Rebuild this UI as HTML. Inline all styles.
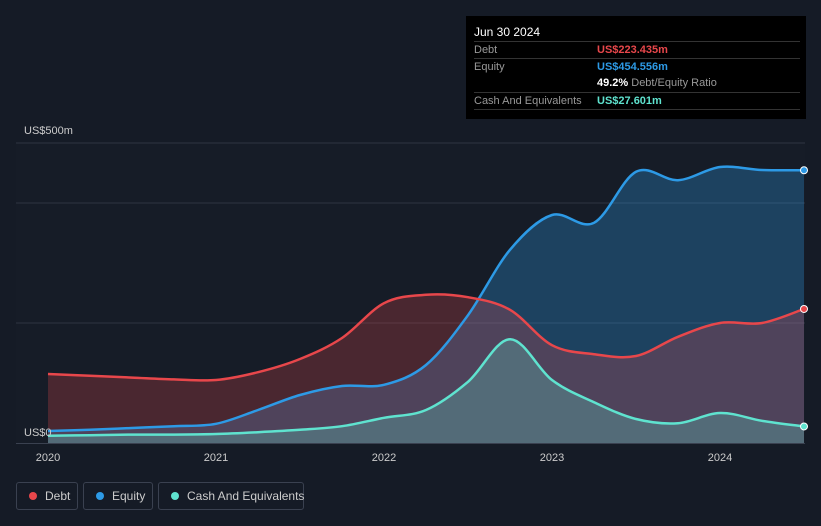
<!DOCTYPE html>
<html><head><meta charset="utf-8"><style>
body{margin:0;background:#151b26;font-family:"Liberation Sans",sans-serif;}
#wrap{position:relative;width:821px;height:526px;overflow:hidden;}
.tt{position:absolute;left:466px;top:16px;width:340px;height:103px;background:#000;color:#fff;font-size:11px;}
.row{position:absolute;left:8px;right:6px;border-top:1px solid #333;height:17px;line-height:17px;}
.row span{position:absolute;left:123px;font-weight:bold;}
.lab{color:#999;}
.leg{position:absolute;top:482px;height:28px;border:1px solid #3a4150;border-radius:3px;color:#ccc;font-size:12px;line-height:26px;box-sizing:border-box;padding-left:28px;white-space:nowrap;}
.leg i{position:absolute;left:12px;top:9px;width:8px;height:8px;border-radius:50%;}
</style></head><body><div id="wrap">
<svg id="svg" width="821" height="526" style="position:absolute;left:0;top:0"></svg>
<div class="tt">
<div style="position:absolute;left:8px;top:9px;font-size:12px">Jun 30 2024</div>
<div class="row" style="top:25px"><b class="lab" style="font-weight:normal">Debt</b><span style="color:#e8474b">US$223.435m</span></div>
<div class="row" style="top:42px"><b class="lab" style="font-weight:normal">Equity</b><span style="color:#2d9ae6">US$454.556m</span></div>
<div class="row" style="top:59px;border-top:none"><span style="color:#fff">49.2% <b style="color:#999;font-weight:normal">Debt/Equity Ratio</b></span></div>
<div class="row" style="top:76px"><b class="lab" style="font-weight:normal">Cash And Equivalents</b><span style="color:#5fe3cf">US$27.601m</span></div>
<div class="row" style="top:93px;height:0"></div>
</div>
<div class="leg" style="left:16px;width:62px"><i style="background:#e8474b"></i>Debt</div>
<div class="leg" style="left:83px;width:70px"><i style="background:#2d9ae6"></i>Equity</div>
<div class="leg" style="left:158px;width:146px"><i style="background:#5fe3cf"></i>Cash And Equivalents</div>
</div>
<script>
const dates=[2020,2020.25,2020.5,2020.75,2021,2021.25,2021.5,2021.75,2022,2022.25,2022.5,2022.75,2023,2023.25,2023.5,2023.75,2024,2024.25,2024.5];
const debt=[115,112,109,106,105,118,140,175,233,247,243,222,163,148,145,177,200,200,223.4];
const equity=[20,22,25,28,32,55,80,95,97,130,213,322,380,367,452,438,460,455,454.6];
const cash=[12,13,14,14,15,18,22,28,42,55,102,173,105,68,40,33,50,37,27.6];
const yTicks=[0,500];const yTickLabels=["US$0","US$500m"];
const xTicks=[2020,2021,2022,2023,2024];
const X=d=>48+(d-2020)*168, Y=v=>443-v*0.6;
const svg=document.getElementById('svg');const NS='http://www.w3.org/2000/svg';
function mk(t,a,p){const e=document.createElementNS(NS,t);for(const k in a)e.setAttribute(k,a[k]);(p||svg).appendChild(e);return e;}
const base=mk('rect',{x:16,y:143,width:789,height:300,fill:'#161c27'});


[500,400,200].forEach(v=>{const l=mk('line',{x1:16,x2:805,y1:Y(v),y2:Y(v),stroke:'#2e3542','stroke-width':1});

});
function path(vals){const p=dates.map((d,i)=>[X(d),Y(vals[i])]);let s=`M${p[0][0]},${p[0][1]}`;
for(let i=0;i<p.length-1;i++){const p0=p[i-1]||p[i],p1=p[i],p2=p[i+1],p3=p[i+2]||p2;
s+=` C${p1[0]+(p2[0]-p0[0])/6},${p1[1]+(p2[1]-p0[1])/6} ${p2[0]-(p3[0]-p1[0])/6},${p2[1]-(p3[1]-p1[1])/6} ${p2[0]},${p2[1]}`;}return s;}
const series=[['equity',equity,'#2d9ae6','rgba(45,154,230,0.3)'],['debt',debt,'#e8474b','rgba(232,71,75,0.25)'],['cash',cash,'#5fe3cf','rgba(95,227,207,0.25)']];
const x0=X(dates[0]),x1=X(dates[dates.length-1]);
series.forEach(([n,v,c,f])=>{const d=path(v);
const a=mk('path',{d:d+` L${x1},${Y(0)} L${x0},${Y(0)} Z`,fill:f});

});
series.forEach(([n,v,c,f])=>{const d=path(v);
const l=mk('path',{d:d,fill:'none',stroke:c,'stroke-width':2.5});

});
series.forEach(([n,v,c,f])=>{
const m=mk('circle',{cx:x1,cy:Y(v[v.length-1]),r:3.5,fill:c,stroke:'#fff','stroke-width':1});

});
const ax=mk('line',{x1:16,x2:805,y1:443.5,y2:443.5,stroke:'#3a4150'});


yTicks.forEach((v,i)=>{const t=mk('text',{x:24,y:Y(v)-7+(v==0?0:-2),fill:'#ccc','font-size':11,'font-family':'Liberation Sans'});t.textContent=yTickLabels[i];

});
xTicks.forEach(v=>{const t=mk('text',{x:X(v),y:461,fill:'#ccc','font-size':11,'text-anchor':'middle','font-family':'Liberation Sans'});t.textContent=v;

});
</script></body></html>
